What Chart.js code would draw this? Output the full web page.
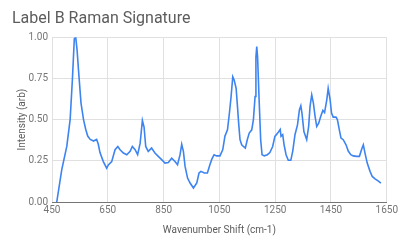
<!DOCTYPE html>
<html><head><meta charset="utf-8">
<script src="https://cdn.jsdelivr.net/npm/chart.js@4/dist/chart.umd.min.js"></script>
<style>html,body{margin:0;padding:0;background:#fff}#wrap{width:400px;height:247px}</style>
</head><body><div id="wrap"><canvas id="c" width="400" height="247"></canvas></div>
<script>
const wavenumbers = [467,485,503,515,523,530,535,540,545,554,563,571,578,587,599,610,616,622,634,646,652,664,676,686,694,706,718,730,738,748,757,766,774,780,786,795,807,819,831,843,855,867,879,891,900,909,915,921,927,936,945,957,969,977,984,996,1007,1016,1023,1031,1040,1052,1062,1070,1079,1086,1092,1098,1103,1110,1114,1119,1124,1130,1136,1143,1150,1157,1166,1172,1178,1181,1184,1187,1192,1198,1203,1211,1222,1231,1241,1249,1259,1268,1271,1277,1282,1289,1297,1306,1313,1321,1330,1337,1342,1346,1353,1363,1370,1375,1381,1387,1393,1399,1406,1414,1421,1427,1435,1440,1447,1452,1458,1468,1473,1480,1486,1494,1504,1512,1521,1530,1542,1552,1560,1566,1572,1580,1590,1598,1608,1620,1629];
const intensity = [0,0.196,0.337,0.5,0.74,0.99,1.0,0.92,0.80,0.60,0.5,0.44,0.40,0.38,0.37,0.38,0.35,0.30,0.245,0.205,0.225,0.245,0.317,0.337,0.317,0.297,0.287,0.307,0.337,0.317,0.287,0.357,0.495,0.455,0.337,0.307,0.327,0.297,0.277,0.257,0.236,0.24,0.266,0.246,0.226,0.287,0.35,0.307,0.216,0.145,0.115,0.085,0.115,0.176,0.186,0.176,0.176,0.226,0.26,0.287,0.28,0.28,0.317,0.40,0.438,0.54,0.64,0.76,0.74,0.69,0.60,0.48,0.378,0.347,0.337,0.327,0.378,0.418,0.438,0.5,0.64,0.88,0.943,0.88,0.64,0.378,0.287,0.28,0.287,0.30,0.337,0.398,0.418,0.44,0.398,0.408,0.347,0.287,0.253,0.253,0.309,0.408,0.468,0.56,0.584,0.54,0.428,0.378,0.458,0.58,0.65,0.60,0.52,0.458,0.478,0.523,0.556,0.543,0.62,0.69,0.62,0.54,0.515,0.515,0.50,0.438,0.388,0.378,0.347,0.309,0.287,0.28,0.277,0.277,0.32,0.347,0.297,0.236,0.186,0.155,0.14,0.127,0.115];
const xTicks = [450,650,850,1050,1250,1450,1650];
const yTicks = [0,0.25,0.5,0.75,1];

const pts = wavenumbers.map((x,i)=>({x:x,y:intensity[i]}));
new Chart(document.getElementById('c'),{
  type:'line',
  data:{datasets:[{data:pts,borderColor:'#3d84f0',borderWidth:1.6,pointRadius:0,tension:0,fill:false}]},
  options:{
    responsive:false,animation:false,
    layout:{padding:{left:12,right:9,top:0,bottom:0}},
    plugins:{
      legend:{display:false},tooltip:{enabled:false},
      title:{display:true,text:'Label B Raman Signature',align:'start',color:'#5c5c5c',
        font:{family:'Roboto',size:16,weight:'normal'},padding:{top:9,bottom:9}}
    },
    scales:{
      x:{type:'linear',min:450,max:1650,
        afterBuildTicks:s=>{s.ticks=xTicks.map(v=>({value:v}));},
        afterFit:s=>{s.height=45;},
        ticks:{color:'#757575',font:{family:'Roboto',size:10},padding:2,maxRotation:0,callback:v=>String(v)},
        grid:{color:'#e0e0e0',drawTicks:false},
        border:{color:'#757575',width:1},
        title:{display:true,text:'Wavenumber Shift (cm-1)',color:'#5c5c5c',font:{family:'Roboto',size:10},padding:{top:4,bottom:11}}
      },
      y:{min:0,max:1,
        afterBuildTicks:s=>{s.ticks=yTicks.map(v=>({value:v}));},
        afterFit:s=>{s.width=40;},
        ticks:{color:'#757575',font:{family:'Roboto',size:10},padding:4,callback:v=>Number(v).toFixed(2)},
        grid:{color:'#e0e0e0',drawTicks:false},
        border:{display:false},
        title:{display:true,text:'Intensity (arb)',color:'#5c5c5c',font:{family:'Roboto',size:10},padding:{bottom:0}}
      }
    }
  }
});
</script></body></html>
